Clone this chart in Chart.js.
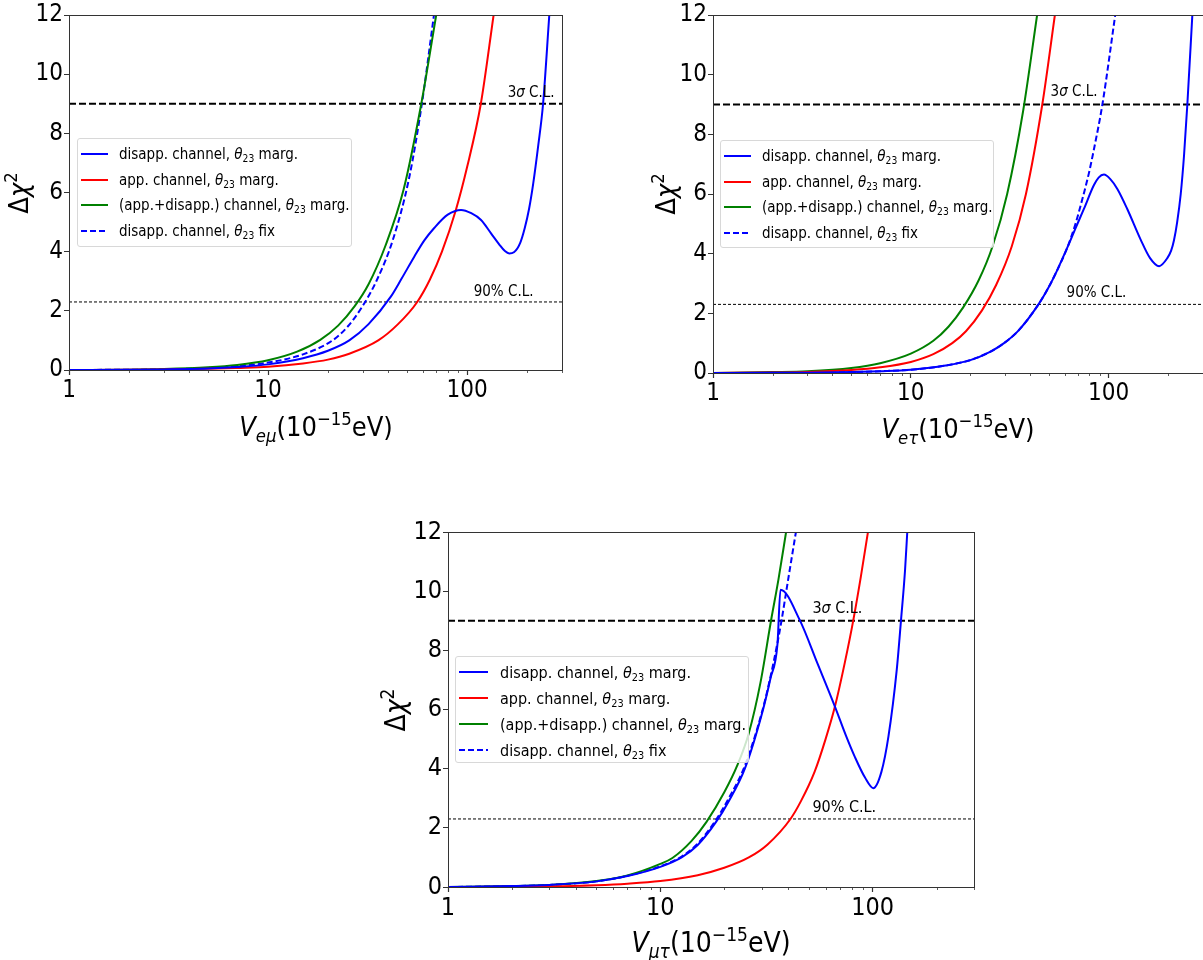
<!DOCTYPE html>
<html>
<head>
<meta charset="utf-8">
<script src="https://cdn.jsdelivr.net/npm/chart.js@4"></script>
<style>
body { margin:0; width:1203px; height:960px; overflow:hidden; background:#fff; position:relative;
       font-family:"DejaVu Sans Condensed","DejaVu Sans",sans-serif; color:#000; }
canvas { position:absolute; }
.ytitle, .xtitle { position:absolute; white-space:nowrap; transform:translate(-50%,-50%); }
.ytitle { transform:translate(-50%,-50%) rotate(-90deg); }
.sup { font-size:0.68em; position:relative; top:-0.6em; }
.sub { font-size:0.68em; position:relative; top:0.3em; }
.legend { position:absolute; box-sizing:border-box; border:1px solid #d8d8d8; border-radius:3px;
          background:rgba(255,255,255,0.8); }
.legend .row { display:flex; align-items:center; white-space:nowrap; }
.legend svg { flex:none; }
</style>
</head>
<body>
<script>
/* axis ticks and confidence levels */
const xMajor = [1, 10, 100];
const xMinor = [2, 3, 4, 5, 6, 7, 8, 9, 20, 30, 40, 50, 60, 70, 80, 90, 200, 300];
const yTicks = [0, 2, 4, 6, 8, 10, 12];
const clLevels = [9, 2.3];

/* V_emu panel */
const emuDisX = [1, 2, 3, 5, 7, 10, 15, 20, 25.6, 32, 41.4, 47, 54.3, 61, 68.4, 80, 93.3, 105, 117.6, 132, 145, 155, 163, 172, 185, 195, 205, 215, 228, 241, 259];
const emuDisY = [0, 0.01, 0.02, 0.05, 0.1, 0.19, 0.4, 0.65, 1.0, 1.55, 2.48, 3.1, 3.83, 4.38, 4.8, 5.25, 5.41, 5.3, 5.07, 4.62, 4.25, 4.02, 3.94, 3.98, 4.3, 4.8, 5.45, 6.3, 7.6, 9.0, 12];
const emuAppX = [1, 2, 3, 5, 7, 10, 15, 20, 25.6, 35.8, 45, 56.2, 65, 74.8, 87.8, 100, 117.3, 136];
const emuAppY = [0, 0.01, 0.02, 0.04, 0.07, 0.11, 0.22, 0.35, 0.55, 1.0, 1.55, 2.3, 3.05, 4.0, 5.4, 6.85, 9.0, 12];
const emuCombX = [1, 2, 3, 5, 7, 10, 14, 18.3, 22.5, 27.2, 32, 38.9, 48, 58.9, 70];
const emuCombY = [0, 0.01, 0.03, 0.09, 0.17, 0.33, 0.62, 1.02, 1.5, 2.15, 2.9, 4.2, 6.1, 9.0, 12];
const emuFixX = [1, 2, 3, 5, 7, 10, 15, 21.1, 25, 29.6, 35, 42.4, 51.2, 59.3, 68.2];
const emuFixY = [0, 0.01, 0.02, 0.07, 0.13, 0.25, 0.53, 1.0, 1.45, 2.12, 3.0, 4.4, 6.5, 9.0, 12];

/* V_etau panel */
const etauDisX = [1, 2, 3, 5, 7, 10, 15, 20, 25, 29.6, 35, 44.2, 50, 55, 61.8, 68, 75, 84.3, 89, 94.7, 102, 110.7, 124.4, 145, 162, 180, 198, 207, 214, 222, 231.5, 240.6, 250, 265];
const etauDisY = [0, 0.005, 0.01, 0.03, 0.06, 0.11, 0.25, 0.43, 0.7, 1.0, 1.42, 2.3, 2.9, 3.45, 4.2, 4.85, 5.5, 6.3, 6.55, 6.65, 6.5, 6.17, 5.49, 4.48, 3.85, 3.58, 3.85, 4.1, 4.45, 5.05, 6.0, 7.3, 9.0, 12];
const etauAppX = [1, 2, 3, 5, 7, 10, 13, 16.2, 19, 22.9, 27, 32.4, 38.2, 46.2, 53.5];
const etauAppY = [0, 0.015, 0.035, 0.1, 0.19, 0.37, 0.63, 1.0, 1.4, 2.1, 2.95, 4.25, 6.0, 9.0, 12];
const etauCombX = [1, 2, 3, 5, 7, 10, 13, 15.5, 18.4, 22, 25.9, 30.7, 37, 43.5];
const etauCombY = [0, 0.03, 0.06, 0.17, 0.33, 0.65, 1.08, 1.55, 2.2, 3.1, 4.25, 6.0, 8.8, 12];
const etauFixX = [1, 2, 3, 5, 7, 10, 15, 20, 25, 29.6, 35, 44.2, 50, 55, 61.8, 68, 72.1, 79.5, 84.3, 93, 108];
const etauFixY = [0, 0.005, 0.01, 0.03, 0.06, 0.11, 0.25, 0.43, 0.7, 1.0, 1.42, 2.3, 2.9, 3.45, 4.2, 5.0, 5.6, 6.7, 7.5, 9.0, 12];

/* V_mutau panel */
const mutauDisX = [1, 2, 3, 5, 7, 10, 12.6, 15, 18.3, 21, 25, 30.2, 33, 35.6, 36.8, 45.3, 55, 66.4, 75, 82.4, 92, 100.7, 110, 118.6, 129.8, 136, 142, 145.5];
const mutauDisY = [0, 0.03, 0.07, 0.19, 0.37, 0.68, 1.0, 1.42, 2.2, 2.9, 4.0, 5.9, 7.05, 8.2, 10.05, 9.03, 7.55, 6.1, 5.1, 4.4, 3.7, 3.34, 3.9, 5.08, 7.34, 9.03, 10.7, 12];
const mutauAppX = [1, 2, 3, 5, 7, 10, 15, 20, 26.1, 32, 41, 46, 53.3, 60, 66.4, 74, 81.1, 88, 95];
const mutauAppY = [0, 0.01, 0.02, 0.06, 0.11, 0.2, 0.4, 0.65, 1.0, 1.44, 2.3, 2.91, 3.9, 5.0, 6.1, 7.6, 9.03, 10.5, 12];
const mutauCombX = [1, 2, 3, 5, 7, 10, 11.4, 14, 16.5, 20, 23, 26.1, 29.6, 33.2, 36, 39.1];
const mutauCombY = [0, 0.03, 0.07, 0.2, 0.39, 0.78, 0.98, 1.55, 2.2, 3.2, 4.1, 5.2, 6.9, 9.0, 10.4, 12];
const mutauFixX = [1, 2, 3, 5, 7, 10, 12.6, 15, 18.3, 21, 25, 30.2, 33, 35.6, 37.2, 40, 43.5];
const mutauFixY = [0, 0.03, 0.07, 0.19, 0.38, 0.7, 1.03, 1.47, 2.27, 3.0, 4.1, 5.95, 7.1, 8.25, 9.0, 10.4, 12];

const legendText = [
    'disapp. channel, <i>θ</i><span class="sub">23</span> marg.',
    'app. channel, <i>θ</i><span class="sub">23</span> marg.',
    '(app.+disapp.) channel, <i>θ</i><span class="sub">23</span> marg.',
    'disapp. channel, <i>θ</i><span class="sub">23</span> fix'
];
const lineColors = ['blue', 'red', 'green', 'blue'];
const lineDash = [[], [], [], [6, 3]];

const FONT = '"DejaVu Sans Condensed", "DejaVu Sans", sans-serif';
Chart.defaults.font.family = FONT;

const padTop = 18, yW = 70, xH = 45, padRight = 20;

// frame on all four sides, short minor ticks, and the C.L. notes
const framePlugin = {
    id: "frame",
    afterDatasetsDraw(chart, args, opts) {
        const { ctx, chartArea: a, scales } = chart;
        ctx.save();
        ctx.strokeStyle = "#333";
        ctx.lineWidth = 1;
        ctx.strokeRect(Math.round(a.left) + 0.5, Math.round(a.top) + 0.5, Math.round(a.right - a.left), Math.round(a.bottom - a.top));

        ctx.lineWidth = 0.8;
        ctx.beginPath();
        xMinor.forEach(v => {
            const px = Math.round(scales.x.getPixelForValue(v)) + 0.5;
            ctx.moveTo(px, Math.round(a.bottom));
            ctx.lineTo(px, Math.round(a.bottom) + 3);
        });
        ctx.stroke();

        ctx.fillStyle = "#000";
        ctx.textBaseline = "alphabetic";
        opts.notes.forEach(n => {
            let px = scales.x.getPixelForValue(n.x);
            const py = scales.y.getPixelForValue(n.y);
            n.parts.forEach(p => {
                ctx.font = (p.italic ? "italic " : "") + opts.size + "px " + FONT;
                ctx.fillText(p.t, px, py);
                px += ctx.measureText(p.t).width;
            });
        });
        ctx.restore();
    }
};

const sigmaNote = [{ t: "3" }, { t: "σ", italic: true }, { t: " C.L." }];
const ninetyNote = [{ t: "90% C.L." }];

function toPoints(xs, ys) {
    return xs.map((v, i) => ({ x: v, y: ys[i] }));
}

function makePanel(area, series, notes, tickSize, noteSize) {
    const canvas = document.createElement("canvas");
    canvas.width = (area.R - area.L) + yW + padRight;
    canvas.height = (area.B - area.T) + padTop + xH;
    canvas.style.left = (area.L - yW) + "px";
    canvas.style.top = (area.T - padTop) + "px";
    document.body.appendChild(canvas);

    const datasets = series.map((s, i) => ({
        data: toPoints(s[0], s[1]),
        borderColor: lineColors[i],
        borderDash: lineDash[i],
        borderWidth: 2,
        pointRadius: 0,
        cubicInterpolationMode: "monotone"
    }));
    datasets.push({
        data: [{ x: 1, y: clLevels[0] }, { x: 300, y: clLevels[0] }],
        borderColor: "#000", borderWidth: 2, borderDash: [7, 3], pointRadius: 0
    });
    datasets.push({
        data: [{ x: 1, y: clLevels[1] }, { x: 300, y: clLevels[1] }],
        borderColor: "#000", borderWidth: 1, borderDash: [3, 2], pointRadius: 0
    });

    return new Chart(canvas, {
        type: "line",
        data: { datasets },
        options: {
            responsive: false,
            animation: false,
            parsing: false,
            layout: { padding: { left: 0, top: padTop, right: padRight, bottom: 0 } },
            plugins: {
                legend: { display: false },
                tooltip: { enabled: false },
                frame: { notes, size: noteSize }
            },
            scales: {
                x: {
                    type: "logarithmic", min: 1, max: 300,
                    afterBuildTicks: s => {
                        s.ticks = xMajor.concat(xMinor).sort((a, b) => a - b).map(v => ({ value: v }));
                    },
                    afterFit: s => { s.height = xH; },
                    ticks: {
                        autoSkip: false, maxRotation: 0, padding: 1, color: "#000",
                        font: { size: tickSize },
                        callback: v => xMajor.includes(v) ? String(v) : ""
                    },
                    grid: {
                        drawOnChartArea: false, tickLength: 5, tickWidth: 1.2,
                        tickColor: c => (c.tick && xMajor.includes(c.tick.value)) ? "#333" : "rgba(0,0,0,0)"
                    },
                    border: { color: "#333", width: 1 }
                },
                y: {
                    min: 0, max: 12,
                    afterBuildTicks: s => { s.ticks = yTicks.map(v => ({ value: v })); },
                    afterFit: s => { s.width = yW; },
                    ticks: { padding: 1, color: "#000", font: { size: tickSize } },
                    grid: { drawOnChartArea: false, tickLength: 5, tickColor: "#333" },
                    border: { color: "#333", width: 1 }
                }
            }
        },
        plugins: [framePlugin]
    });
}

function addTitles(yPos, xPos, sub, size) {
    const yt = document.createElement("div");
    yt.className = "ytitle";
    yt.style.left = yPos[0] + "px";
    yt.style.top = yPos[1] + "px";
    yt.style.fontSize = size + "px";
    yt.innerHTML = 'Δ<i>χ</i><span class="sup">2</span>';
    document.body.appendChild(yt);

    const xt = document.createElement("div");
    xt.className = "xtitle";
    xt.style.left = xPos[0] + "px";
    xt.style.top = xPos[1] + "px";
    xt.style.fontSize = size + "px";
    xt.innerHTML = '<i>V</i><span class="sub"><i>' + sub + '</i></span>(10<span class="sup">−15</span>eV)';
    document.body.appendChild(xt);
}

function addLegend(box) {
    const lg = document.createElement("div");
    lg.className = "legend";
    lg.style.left = box.left + "px";
    lg.style.top = box.top + "px";
    lg.style.width = box.w + "px";
    lg.style.height = box.h + "px";
    lg.style.fontSize = box.font + "px";
    lg.style.paddingTop = (15 - box.row / 2) + "px";
    legendText.forEach((t, i) => {
        const row = document.createElement("div");
        row.className = "row";
        row.style.height = box.row + "px";
        const dash = lineDash[i].length ? ' stroke-dasharray="' + lineDash[i].join(" ") + '"' : "";
        row.innerHTML = '<svg width="' + (box.sample + 3) + '" height="4" style="margin-left:3px;margin-right:' + box.gap + 'px">' +
            '<line x1="0" y1="2" x2="' + box.sample + '" y2="2" stroke="' + lineColors[i] + '" stroke-width="2"' + dash + '/></svg>' +
            '<span>' + t + '</span>';
        lg.appendChild(row);
    });
    document.body.appendChild(lg);
}

/* panel 1: V_emu */
makePanel({ L: 69, T: 15, R: 562, B: 370 },
    [[emuDisX, emuDisY], [emuAppX, emuAppY], [emuCombX, emuCombY], [emuFixX, emuFixY]],
    [{ parts: sigmaNote, x: 160, y: 9.23 }, { parts: ninetyNote, x: 108, y: 2.5 }], 24, 15);
addTitles([18, 193], [316, 426], "eμ", 27);
addLegend({ left: 77, top: 138, w: 275, h: 109, font: 15, row: 25.5, sample: 27, gap: 8 });

/* panel 2: V_etau */
makePanel({ L: 713, T: 15, R: 1203, B: 373 },
    [[etauDisX, etauDisY], [etauAppX, etauAppY], [etauCombX, etauCombY], [etauFixX, etauFixY]],
    [{ parts: sigmaNote, x: 50.9, y: 9.3 }, { parts: ninetyNote, x: 61.3, y: 2.56 }], 24, 15);
addTitles([665, 194], [958, 428], "eτ", 27);
addLegend({ left: 720, top: 140, w: 274, h: 108, font: 15, row: 25.5, sample: 27, gap: 8 });

/* panel 3: V_mutau */
makePanel({ L: 448, T: 532, R: 974, B: 887 },
    [[mutauDisX, mutauDisY], [mutauAppX, mutauAppY], [mutauCombX, mutauCombY], [mutauFixX, mutauFixY]],
    [{ parts: sigmaNote, x: 52, y: 9.26 }, { parts: ninetyNote, x: 52, y: 2.53 }], 25, 16);
addTitles([395, 710], [711, 942], "μτ", 28);
addLegend({ left: 455, top: 656, w: 294, h: 107, font: 16, row: 26, sample: 29, gap: 9 });
</script>
</body>
</html>
